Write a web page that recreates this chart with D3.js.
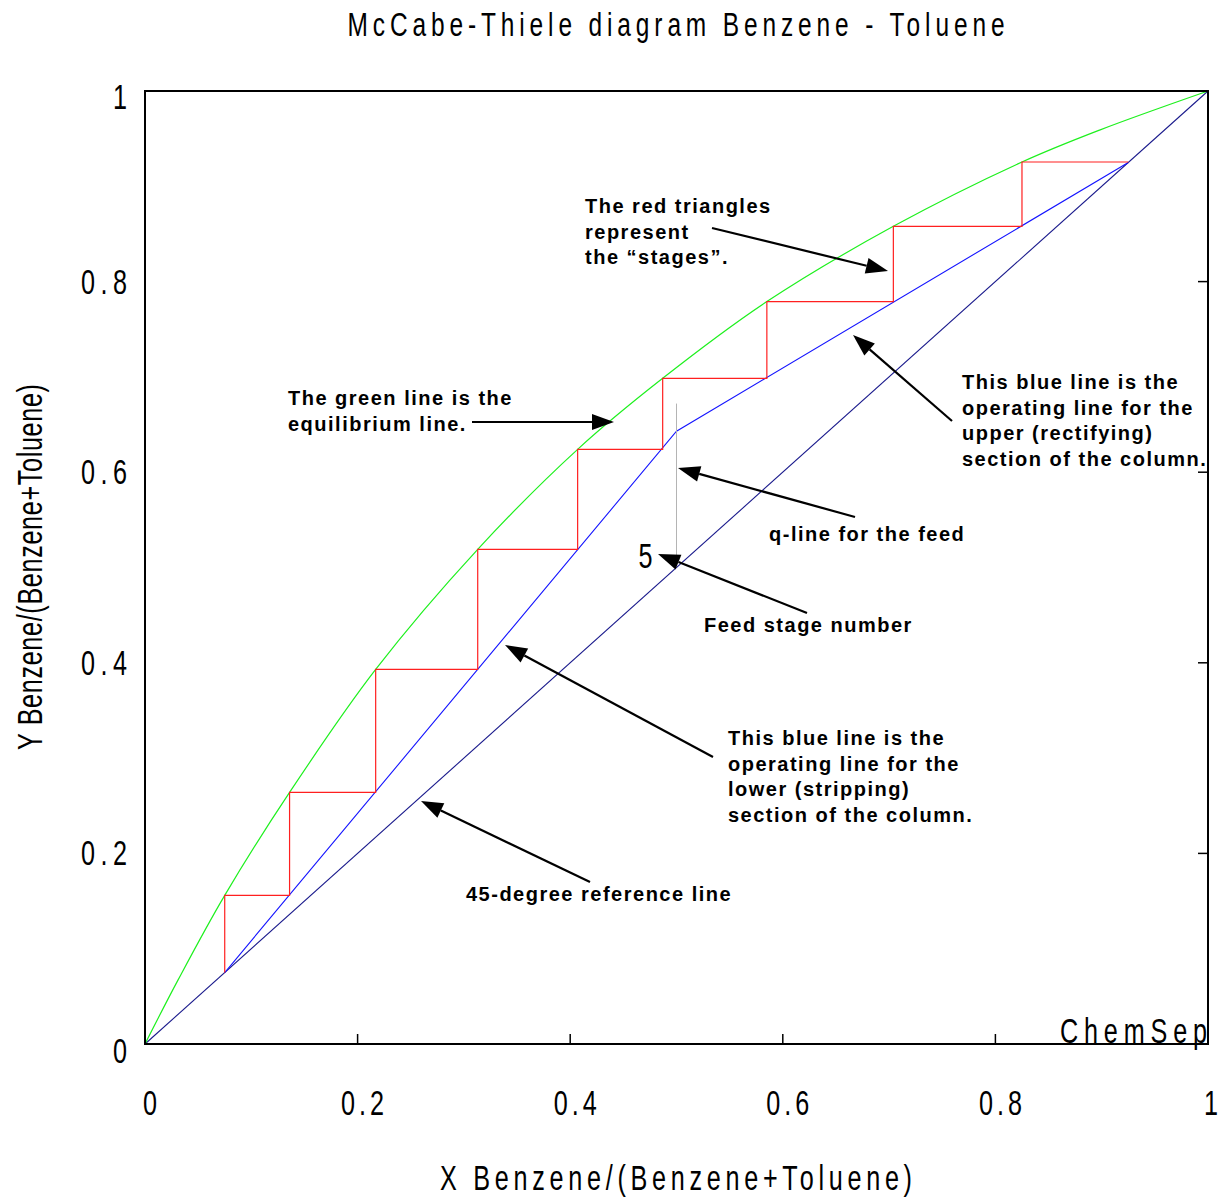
<!DOCTYPE html>
<html>
<head>
<meta charset="utf-8">
<script src="https://cdn.jsdelivr.net/npm/d3@7"></script>
<style>
  html, body { margin: 0; padding: 0; background: #fff; }
  svg { display: block; }
  .narrow { font-family: "Liberation Sans", Arial, sans-serif; fill: #000; }
  .note { font-family: "Liberation Sans", Arial, sans-serif; font-weight: bold; font-size: 20px; letter-spacing: 1.5px; fill: #000; }
</style>
</head>
<body>
<svg id="chart" width="1220" height="1199"></svg>
<script>
// Benzene - Toluene McCabe-Thiele construction (mole fractions of benzene)

// Vapour-liquid equilibrium curve
const eqX = [0, 0.031, 0.075, 0.136, 0.217, 0.313, 0.407, 0.487, 0.585, 0.704, 0.825, 0.898, 1];
const eqY = [0, 0.067, 0.156, 0.264, 0.393, 0.519, 0.624, 0.6985, 0.779, 0.858, 0.9255, 0.959, 1];

// Stage compositions: liquid leaving each stage and vapour leaving each stage (top to bottom)
const stageX = [0.825, 0.704, 0.585, 0.487, 0.407, 0.313, 0.217, 0.136, 0.075];
const stageY = [0.9255, 0.858, 0.779, 0.6985, 0.624, 0.519, 0.393, 0.264, 0.156];

// Column specification
const xDistillate = 0.925;
const xBottoms = 0.075;
const zFeed = 0.5;
const yFeedIntersect = 0.643;
const qLineY = [0.51, 0.672];
const feedStage = 5;

// Axis ticks
const tickValues = [0, 0.2, 0.4, 0.6, 0.8, 1];
const tickLabels = ["0", "0.2", "0.4", "0.6", "0.8", "1"];

const svg = d3.select("#chart");
const margin = { left: 145, top: 91, right: 12, bottom: 155 };
const W = 1220, H = 1199;
const plotW = W - margin.left - margin.right;   // 1063
const plotH = H - margin.top - margin.bottom;   // 953

const x = d3.scaleLinear().domain([0, 1]).range([margin.left, margin.left + plotW]);
const y = d3.scaleLinear().domain([0, 1]).range([margin.top + plotH, margin.top]);

const line = d3.line().x(d => x(d[0])).y(d => y(d[1]));

// Condensed, spaced-out lettering: horizontally squeezed Liberation Sans,
// with the run stretched to a given overall width when one is supplied.
const SQUEEZE = 0.72;
function narrowText(parent, px, py, str, o = {}) {
  const size = o.size || 35;
  const rot = o.rotate ? ` rotate(${o.rotate})` : "";
  const g = parent.append("g")
    .attr("transform", `translate(${px},${py})${rot} scale(${SQUEEZE},1)`);
  const t = g.append("text").attr("class", "narrow")
    .style("font-size", size + "px")
    .text(str);
  const anchor = o.anchor || "start";
  if (o.width && str.length > 1) {
    const w = o.width / SQUEEZE;
    t.attr("textLength", w).attr("lengthAdjust", "spacing");
    t.attr("x", anchor === "middle" ? -w / 2 : anchor === "end" ? -w : 0);
  } else {
    t.attr("text-anchor", anchor);
  }
  return t;
}

// Title
narrowText(svg, 676, 36, "McCabe-Thiele diagram  Benzene - Toluene", { width: 657, anchor: "middle", size: 34 });

// 45-degree reference line
svg.append("path").attr("d", line([[0, 0], [1, 1]]))
  .attr("fill", "none").attr("stroke", "#1a1a8c").attr("stroke-width", 1.1);

// Equilibrium curve
svg.append("path")
  .attr("d", d3.line().x(d => x(d[0])).y(d => y(d[1])).curve(d3.curveCatmullRom.alpha(0.5))(eqX.map((v, i) => [v, eqY[i]])))
  .attr("fill", "none").attr("stroke", "#1ef01e").attr("stroke-width", 1.2);

// Operating lines (stripping and rectifying sections)
svg.append("path")
  .attr("d", line([[xBottoms, xBottoms], [zFeed, yFeedIntersect], [xDistillate, xDistillate]]))
  .attr("fill", "none").attr("stroke", "#1414ff").attr("stroke-width", 1.1);

// q-line for the feed
svg.append("path").attr("d", line([[zFeed, qLineY[0]], [zFeed, qLineY[1]]]))
  .attr("fill", "none").attr("stroke", "#b4b4b4").attr("stroke-width", 1);

// Stage staircase
const steps = [[xDistillate, stageY[0]]];
stageX.forEach((sx, i) => {
  steps.push([sx, stageY[i]]);
  steps.push([sx, i + 1 < stageY.length ? stageY[i + 1] : xBottoms]);
});
svg.append("path").attr("d", line(steps))
  .attr("fill", "none").attr("stroke", "#ff2020").attr("stroke-width", 1.2);

// Feed stage number
narrowText(svg, x(zFeed) - 38, y(qLineY[0]) + 10, String(feedStage));

// Frame
svg.append("rect")
  .attr("x", x(0)).attr("y", y(1)).attr("width", plotW).attr("height", plotH)
  .attr("fill", "none").attr("stroke", "#000").attr("stroke-width", 2);

// Inner ticks on the bottom and right edges
const inner = tickValues.filter(v => v > 0 && v < 1);
svg.append("g").selectAll("line").data(inner).join("line")
  .attr("x1", d => x(d)).attr("x2", d => x(d))
  .attr("y1", y(0)).attr("y2", y(0) - 10)
  .attr("stroke", "#000").attr("stroke-width", 1.5);
svg.append("g").selectAll("line").data(inner).join("line")
  .attr("x1", x(1)).attr("x2", x(1) - 10)
  .attr("y1", d => y(d)).attr("y2", d => y(d))
  .attr("stroke", "#000").attr("stroke-width", 1.5);

// Tick labels
const xLab = svg.append("g"), yLab = svg.append("g");
tickValues.forEach((v, i) => {
  const s = tickLabels[i];
  narrowText(xLab, x(v) + (v === 1 ? 3 : 5), 1115, s, { anchor: "middle", width: s.length > 1 ? 43 : null });
  narrowText(yLab, 127, y(v) + 12 + (v === 0 ? 7 : v === 1 ? 6 : 0), s, { anchor: "end", width: s.length > 1 ? 46 : null });
});

// Axis titles
narrowText(svg, 676, 1190, "X Benzene/(Benzene+Toluene)", { width: 472, anchor: "middle" });
narrowText(svg, 42, 567, "Y Benzene/(Benzene+Toluene)", { width: 366, anchor: "middle", rotate: -90 });

// Program mark
narrowText(svg, 1207, 1043, "ChemSep", { width: 147, anchor: "end" });

// Explanatory notes with arrows
const notes = [
  { x: 585, y: 213, lines: ["The red triangles", "represent", "the \u201cstages\u201d."], from: [712, 228], to: [888, 271] },
  { x: 288, y: 405, lines: ["The green line is the", "equilibrium line."], from: [472, 422], to: [614, 422] },
  { x: 962, y: 389, lines: ["This blue line is the", "operating line for the", "upper (rectifying)", "section of the column."], from: [952, 421], to: [853, 335] },
  { x: 769, y: 541, lines: ["q-line for the feed"], from: [855, 517], to: [678, 468] },
  { x: 704, y: 632, lines: ["Feed stage number"], from: [807, 613], to: [658, 554] },
  { x: 728, y: 745, lines: ["This blue line is the", "operating line for the", "lower (stripping)", "section of the column."], from: [713, 757], to: [505, 645] },
  { x: 466, y: 901, lines: ["45-degree reference line"], from: [590, 882], to: [421, 801] }
];

const noteG = svg.append("g");
notes.forEach(n => {
  const t = noteG.append("text").attr("class", "note").attr("x", n.x).attr("y", n.y);
  n.lines.forEach((s, i) => {
    t.append("tspan").attr("x", n.x).attr("dy", i === 0 ? 0 : 25.6).text(s);
  });
  const [x0, y0] = n.from, [x1, y1] = n.to;
  const ang = Math.atan2(y1 - y0, x1 - x0);
  const headLen = 22, headW = 8;
  const bx = x1 - headLen * Math.cos(ang), by = y1 - headLen * Math.sin(ang);
  noteG.append("line")
    .attr("x1", x0).attr("y1", y0).attr("x2", bx).attr("y2", by)
    .attr("stroke", "#000").attr("stroke-width", 2.2);
  const px = -Math.sin(ang) * headW, py = Math.cos(ang) * headW;
  noteG.append("path")
    .attr("d", `M${x1},${y1}L${bx + px},${by + py}L${bx - px},${by - py}Z`)
    .attr("fill", "#000");
});
</script>
</body>
</html>
